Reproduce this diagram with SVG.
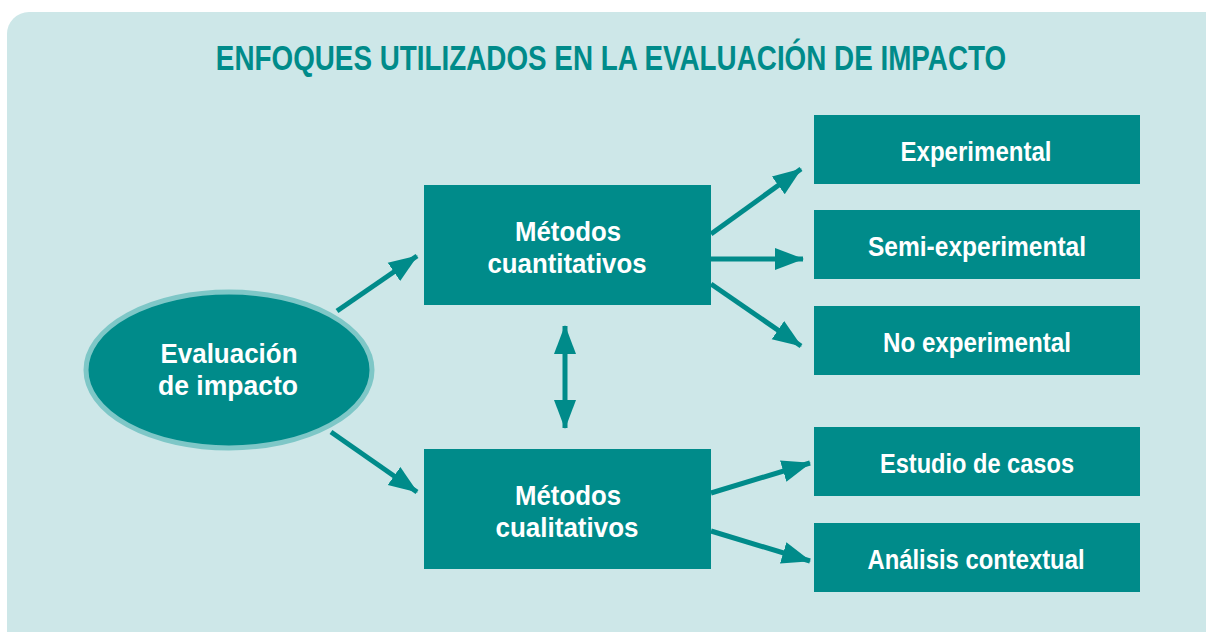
<svg xmlns="http://www.w3.org/2000/svg" width="1206" height="632" viewBox="0 0 1206 632">
<defs>
<style>
.box{fill:#008b8a}
.t{font-family:"Liberation Sans",Arial,sans-serif;font-weight:bold;fill:#ffffff;font-size:28px;text-anchor:middle}
.title{font-family:"Liberation Sans",Arial,sans-serif;font-weight:bold;fill:#008b8a;font-size:35px;text-anchor:middle}
.c{stroke:#008b8a;stroke-width:5;fill:none}
</style>
<marker id="ah" markerUnits="userSpaceOnUse" markerWidth="30" markerHeight="24" refX="28" refY="12" orient="auto-start-reverse" viewBox="0 0 30 24">
<path d="M0,1 L29,12 L0,23 Z" fill="#008b8a"/>
</marker>
</defs>
<rect x="0" y="0" width="1206" height="632" fill="#ffffff"/>
<rect x="7" y="12" width="1220" height="660" rx="22" fill="#cde7e8"/>
<text class="title" transform="translate(611,70) scale(0.795,1)" x="0" y="0">ENFOQUES UTILIZADOS EN LA EVALUACIÓN DE IMPACTO</text>
<g id="connectors">
<line class="c" x1="337" y1="311" x2="417" y2="256" marker-end="url(#ah)"/>
<line class="c" x1="331" y1="432" x2="417" y2="492" marker-end="url(#ah)"/>
<line class="c" x1="711" y1="234" x2="801" y2="169" marker-end="url(#ah)"/>
<line class="c" x1="711" y1="259" x2="803" y2="259" marker-end="url(#ah)"/>
<line class="c" x1="711" y1="284" x2="801" y2="346" marker-end="url(#ah)"/>
<line class="c" x1="565" y1="326" x2="565" y2="428" marker-start="url(#ah)" marker-end="url(#ah)"/>
<line class="c" x1="711" y1="493" x2="810" y2="463" marker-end="url(#ah)"/>
<line class="c" x1="711" y1="531" x2="810" y2="561" marker-end="url(#ah)"/>
</g>
<g id="evaluacion">
<ellipse cx="229" cy="370" rx="143" ry="78" fill="#008b8a" stroke="#7ec7c7" stroke-width="5"/>
<text class="t" x="229" y="363" textLength="137" lengthAdjust="spacingAndGlyphs">Evaluación</text>
<text class="t" x="228" y="395" textLength="140" lengthAdjust="spacingAndGlyphs">de impacto</text>
</g>
<g id="cuantitativos">
<rect class="box" x="424" y="185" width="287" height="120"/>
<text class="t" x="568" y="241" textLength="106" lengthAdjust="spacingAndGlyphs">Métodos</text>
<text class="t" x="567" y="273" textLength="159" lengthAdjust="spacingAndGlyphs">cuantitativos</text>
</g>
<g id="cualitativos">
<rect class="box" x="424" y="449" width="287" height="120"/>
<text class="t" x="568" y="505" textLength="106" lengthAdjust="spacingAndGlyphs">Métodos</text>
<text class="t" x="567" y="537" textLength="143" lengthAdjust="spacingAndGlyphs">cualitativos</text>
</g>
<g id="experimental">
<rect class="box" x="814" y="115" width="326" height="69"/>
<text class="t" x="976" y="161" textLength="151" lengthAdjust="spacingAndGlyphs">Experimental</text>
</g>
<g id="semi">
<rect class="box" x="814" y="210" width="326" height="69"/>
<text class="t" x="977" y="256" textLength="218" lengthAdjust="spacingAndGlyphs">Semi-experimental</text>
</g>
<g id="noexp">
<rect class="box" x="814" y="306" width="326" height="69"/>
<text class="t" x="977" y="352" textLength="188" lengthAdjust="spacingAndGlyphs">No experimental</text>
</g>
<g id="casos">
<rect class="box" x="814" y="427" width="326" height="69"/>
<text class="t" x="977" y="473" textLength="194" lengthAdjust="spacingAndGlyphs">Estudio de casos</text>
</g>
<g id="contextual">
<rect class="box" x="814" y="523" width="326" height="69"/>
<text class="t" x="976" y="569" textLength="217" lengthAdjust="spacingAndGlyphs">Análisis contextual</text>
</g>
</svg>
